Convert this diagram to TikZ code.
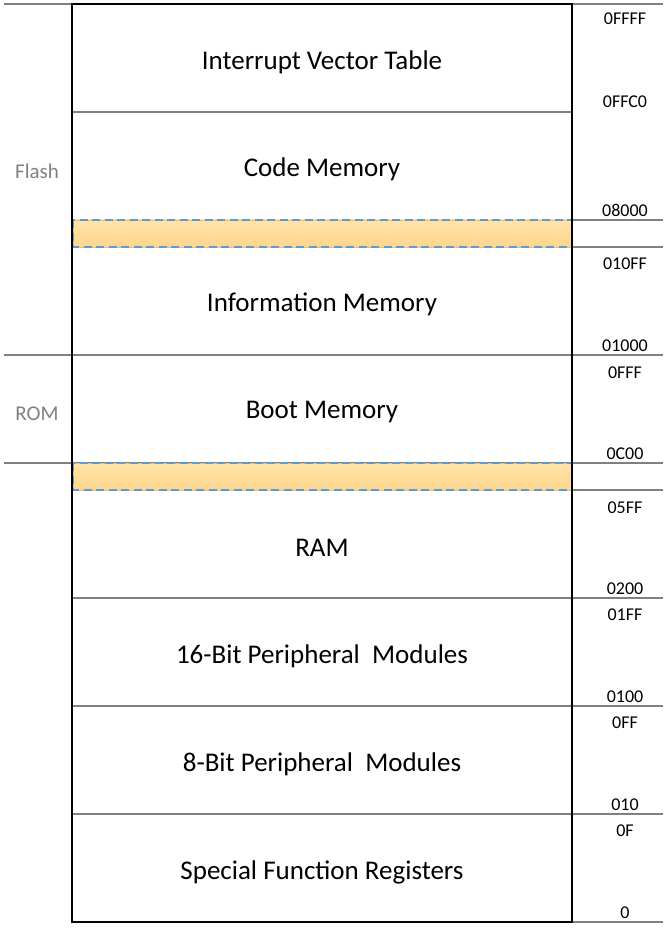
\documentclass[tikz,border=0pt]{standalone}
\usepackage{fontspec}
\setmainfont{Carlito}
\definecolor{sepgray}{HTML}{808080}
\definecolor{bandtop}{HTML}{FFE3AA}
\definecolor{bandbot}{HTML}{FDD68C}
\definecolor{bandedge}{HTML}{F4B97A}
\definecolor{dashblue}{HTML}{5B9BD5}
\begin{document}
\begin{tikzpicture}[x=1pt,y=-1pt,
  sep/.style={draw=sepgray, line width=1.8pt},
  region/.style={font=\fontsize{27}{32}\selectfont, text=black, inner sep=0pt},
  addr/.style={font=\fontsize{18}{21}\selectfont, text=black, inner sep=0pt},
  group/.style={font=\fontsize{21}{25}\selectfont, text=sepgray, inner sep=0pt},
  box/.style={draw=black, line width=2.2pt},
  band/.style={top color=bandtop, bottom color=bandbot, draw=bandedge, line width=0.6pt},
  banddash/.style={draw=dashblue, line width=2pt, dash pattern=on 8pt off 4.5pt}]
\useasboundingbox (0,0) rectangle (663,933);
% separators
\draw[sep] (4,4) -- (663,4);
\draw[sep] (72,112) -- (572,112);
\draw[sep] (72,220) -- (663,220);
\draw[sep] (72,247) -- (663,247);
\draw[sep] (4,355) -- (663,355);
\draw[sep] (4,463) -- (663,463);
\draw[sep] (72,490) -- (663,490);
\draw[sep] (72,598) -- (663,598);
\draw[sep] (72,706) -- (663,706);
\draw[sep] (72,814) -- (663,814);
\draw[sep] (572,922) -- (663,922);
% bands
\shade[band] (73,220) rectangle (572,247);
\draw[banddash] (73,220) rectangle (572,247);
\shade[band] (73,463) rectangle (572,490);
\draw[banddash] (73,463) rectangle (572,490);
% main box
\draw[box] (72,4) rectangle (572,922);
% regions
\node[region] (ivt) at (322,62) {Interrupt Vector Table};
\node[region] (code) at (322,169) {Code Memory};
\node[region] (info) at (322,304) {Information Memory};
\node[region] (boot) at (322,412) {Boot Memory};
\node[region] (ram) at (322,548) {RAM};
\node[region] (p16) at (322,656) {16-Bit Peripheral\ \ Modules};
\node[region] (p8) at (322,764) {8-Bit Peripheral\ \ Modules};
\node[region] (sfr) at (322,872) {Special Function Registers};
% groups
\node[group] (flash) at (37,171) {Flash};
\node[group] (rom) at (37,414) {ROM};
% addresses
\node[addr] (a1) at (625,19) {0FFFF};
\node[addr] (a2) at (625,102) {0FFC0};
\node[addr] (a3) at (625,210) {08000};
\node[addr] (a4) at (625,264) {010FF};
\node[addr] (a5) at (625,346) {01000};
\node[addr] (a6) at (625,373) {0FFF};
\node[addr] (a7) at (625,454) {0C00};
\node[addr] (a8) at (625,508) {05FF};
\node[addr] (a9) at (625,589) {0200};
\node[addr] (a10) at (625,615) {01FF};
\node[addr] (a11) at (625,697) {0100};
\node[addr] (a12) at (625,723) {0FF};
\node[addr] (a13) at (625,805) {010};
\node[addr] (a14) at (625,831) {0F};
\node[addr] (a15) at (625,913) {0};
\end{tikzpicture}
\end{document}
